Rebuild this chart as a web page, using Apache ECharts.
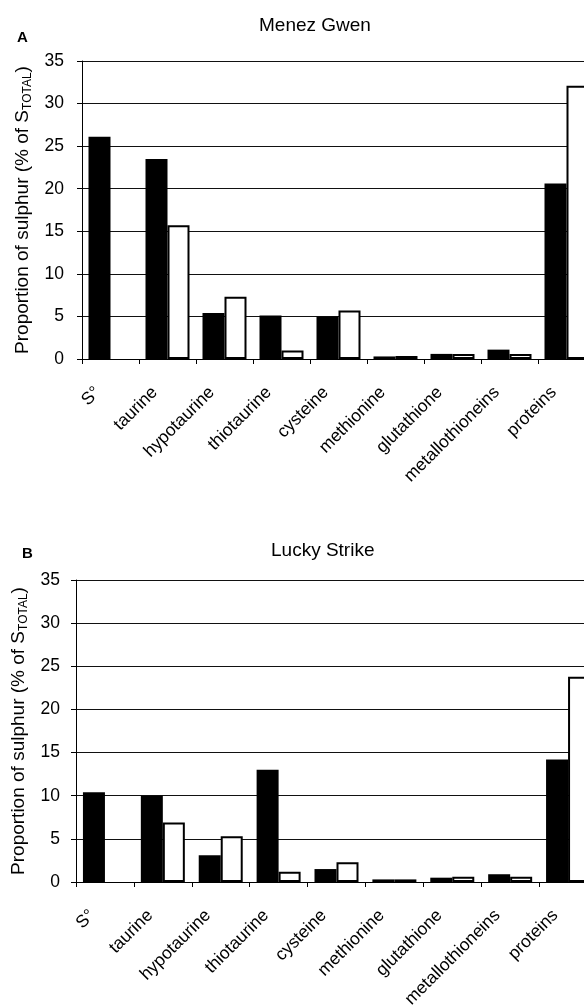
<!DOCTYPE html>
<html>
<head>
<meta charset="utf-8">
<script src="https://cdn.jsdelivr.net/npm/echarts@6/dist/echarts.min.js"></script>
<style>
html,body{margin:0;padding:0;background:#fff;}
#chart{width:584px;height:1007px;}
</style>
</head>
<body>
<div id="chart"></div>
<script>
// Data
const categories = ['S°', 'taurine', 'hypotaurine', 'thiotaurine', 'cysteine', 'methionine', 'glutathione', 'metallothioneins', 'proteins'];
const menezBlack = [26.1, 23.5, 5.4, 5.1, 5.0, 0.3, 0.6, 1.1, 20.6];
const menezWhite = [null, 15.7, 7.3, 1.0, 5.7, 0.35, 0.6, 0.6, 32.1];
const luckyBlack = [10.4, 10.0, 3.1, 13.0, 1.5, 0.3, 0.5, 0.9, 14.2];
const luckyWhite = [null, 6.9, 5.3, 1.2, 2.3, 0.3, 0.6, 0.6, 23.8];
const yMin = 0, yMax = 35, yStep = 5;
const titleA = 'Menez Gwen', titleB = 'Lucky Strike';

const FONT = '"Liberation Sans", Arial, Helvetica, sans-serif';
const chart = echarts.init(document.getElementById('chart'), null, {renderer: 'canvas'});

function yAxisDef(gridIndex) {
  return {
    type: 'value', gridIndex: gridIndex, min: yMin, max: yMax, interval: yStep,
    name: '{a|Proportion of sulphur (% of S}{b|TOTAL}{a|)}',
    nameLocation: 'middle', nameGap: gridIndex === 0 ? 46 : 43,
    nameTextStyle: {
      color: '#000', fontFamily: FONT,
      rich: {
        a: {fontSize: 19, fontFamily: FONT, color: '#000', lineHeight: 22},
        b: {fontSize: 12, fontFamily: FONT, color: '#000', lineHeight: 14, verticalAlign: 'bottom'}
      }
    },
    axisLine: {show: true, lineStyle: {color: '#000', width: 1}},
    axisTick: {show: true, length: 5, lineStyle: {color: '#000'}},
    axisLabel: {color: '#000', fontSize: 17.5, fontFamily: FONT, margin: gridIndex === 0 ? 18 : 16},
    splitLine: {show: true, lineStyle: {color: '#111', width: 1}}
  };
}
function xAxisDef(gridIndex) {
  return {
    type: 'category', gridIndex: gridIndex, data: categories,
    axisLine: {show: true, lineStyle: {color: '#000', width: 1}},
    axisTick: {show: true, length: 5, lineStyle: {color: '#000'}},
    axisLabel: {color: '#000', fontSize: 17.5, fontFamily: FONT, rotate: 45, interval: 0,
                margin: 18, padding: [0, 18, 0, 0]},
    splitLine: {show: false}
  };
}
function barPair(xi, black, white) {
  return [
    {type: 'bar', xAxisIndex: xi, yAxisIndex: xi, data: black, barWidth: 22, barGap: '0%',
     itemStyle: {color: '#000'}, silent: true},
    {type: 'bar', xAxisIndex: xi, yAxisIndex: xi, data: white, barWidth: 22, barGap: '0%',
     itemStyle: {color: '#fff', borderColor: '#000', borderWidth: 2}, silent: true}
  ];
}

chart.setOption({
  animation: false,
  backgroundColor: '#fff',
  title: [
    {text: titleA, left: 254, top: 11, textStyle: {fontSize: 19, fontWeight: 'normal', color: '#000', fontFamily: FONT}},
    {text: 'A', left: 12, top: 25, textStyle: {fontSize: 15, fontWeight: 'bold', color: '#000', fontFamily: FONT}},
    {text: titleB, left: 266, top: 536, textStyle: {fontSize: 19, fontWeight: 'normal', color: '#000', fontFamily: FONT}},
    {text: 'B', left: 17, top: 541, textStyle: {fontSize: 15, fontWeight: 'bold', color: '#000', fontFamily: FONT}}
  ],
  grid: [
    {left: 82, top: 61, width: 513, height: 298, containLabel: false, outerBoundsMode: 'none'},
    {left: 76, top: 580, width: 521, height: 302, containLabel: false, outerBoundsMode: 'none'}
  ],
  xAxis: [xAxisDef(0), xAxisDef(1)],
  yAxis: [yAxisDef(0), yAxisDef(1)],
  series: [].concat(barPair(0, menezBlack, menezWhite), barPair(1, luckyBlack, luckyWhite))
});
</script>
</body>
</html>
